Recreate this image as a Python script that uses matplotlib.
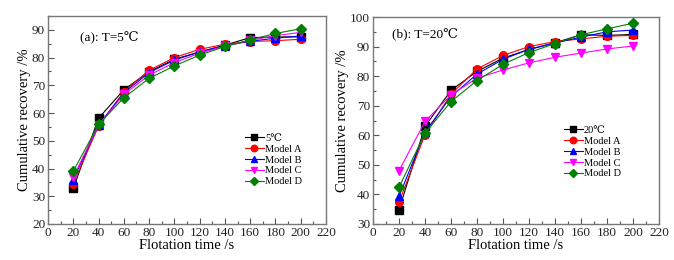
import matplotlib
matplotlib.use('Agg')
import matplotlib.pyplot as plt
from matplotlib.ticker import MultipleLocator

plt.rcParams['font.family'] = ['Liberation Serif', 'DejaVu Serif']

t = [20, 40, 60, 80, 100, 120, 140, 160, 180, 200]

# (a) T=5℃
a_exp = [32.8, 58.1, 68.4, 74.9, 79.4, 82.0, 84.5, 87.2, 87.4, 87.5]
a_A = [34.5, 55.3, 67.7, 75.4, 80.0, 83.0, 84.8, 85.8, 86.1, 86.6]
a_B = [36.0, 55.7, 67.3, 74.6, 79.1, 82.1, 84.3, 85.9, 87.0, 87.8]
a_C = [36.9, 55.6, 66.7, 73.7, 78.2, 81.6, 84.1, 86.2, 87.9, 89.1]
a_D = [39.0, 55.9, 65.5, 72.5, 77.0, 80.9, 84.0, 86.4, 88.7, 90.4]

# (b) T=20℃
b_exp = [34.8, 63.0, 75.2, 81.6, 86.1, 89.0, 91.3, 94.0, 93.8, 94.1]
b_A = [37.4, 60.2, 73.9, 82.4, 87.0, 90.0, 91.7, 92.6, 93.5, 93.8]
b_B = [39.3, 61.1, 73.1, 80.7, 85.7, 89.1, 91.2, 93.2, 95.0, 95.6]
b_C = [48.0, 64.7, 73.7, 79.3, 82.1, 84.5, 86.4, 87.8, 89.2, 90.2]
b_D = [42.4, 60.7, 71.4, 78.5, 84.0, 88.0, 91.0, 94.0, 96.0, 97.9]

styles = [
    ('k', 's'),
    ('red', 'o'),
    ('blue', '^'),
    ('magenta', 'v'),
    ('#008000', 'D'),
]

fig = plt.figure(figsize=(6.74, 2.6), dpi=100)
ax1 = fig.add_axes([0.0712, 0.1385, 0.4125, 0.80])
ax2 = fig.add_axes([0.5534, 0.1385, 0.4243, 0.796])


def dibujar(ax, series, nombres, ylim, titulo, tpos, legpos):
    for (c, m), y, n in zip(styles, series, nombres):
        ms = 5.5 if m != 'D' else 5
        ax.plot(t, y, color=c, marker=m, markersize=ms, lw=0.8, label=n,
                markeredgecolor=c)
    ax.set_xlim(0, 220)
    ax.set_ylim(*ylim)
    ax.xaxis.set_major_locator(MultipleLocator(20))
    ax.xaxis.set_minor_locator(MultipleLocator(10))
    ax.yaxis.set_major_locator(MultipleLocator(10))
    ax.yaxis.set_minor_locator(MultipleLocator(5))
    ax.tick_params(which='both', direction='in', labelsize=9.5, colors='#555555',
                   labelcolor='#222222', top=False, right=False, pad=2)
    ax.tick_params(which='major', length=4, width=0.8)
    ax.tick_params(which='minor', length=2.5, width=0.8)
    for s in ax.spines.values():
        s.set_color('#777777')
        s.set_linewidth(1.0)
    ax.set_xlabel('Flotation time /s', fontsize=10.5, labelpad=0)
    ax.set_ylabel('Cumulative recovery /%', fontsize=10.5, labelpad=1)
    ax.text(tpos[0], tpos[1], titulo, transform=ax.transAxes, fontsize=9.5,
            ha='left', va='center')
    ax.legend(loc='upper left', bbox_to_anchor=legpos, frameon=False,
              fontsize=7.5, handlelength=1.8, handletextpad=0.1,
              labelspacing=0.15, borderpad=0, markerscale=0.85)


dibujar(ax1, [a_exp, a_A, a_B, a_C, a_D],
        ['5℃', 'Model A', 'Model B', 'Model C', 'Model D'],
        (20, 95), '(a): T=5℃', (0.115, 0.895), (0.69, 0.46))
dibujar(ax2, [b_exp, b_A, b_B, b_C, b_D],
        ['20℃', 'Model A', 'Model B', 'Model C', 'Model D'],
        (30, 100), '(b): T=20℃', (0.066, 0.915), (0.65, 0.50))

fig.savefig('out.png', dpi=100)
